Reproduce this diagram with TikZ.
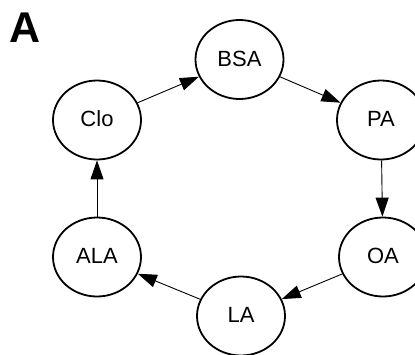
\documentclass[tikz,border=0pt]{standalone}
\usepackage{fontspec}
\setmainfont{Liberation Sans}
\usetikzlibrary{shapes.geometric,arrows.meta}
\begin{document}
\begin{tikzpicture}[x=1pt,y=-1pt,
  state/.style={ellipse,draw,line width=1.8pt,minimum width=88pt,minimum height=79pt,inner sep=0pt,font=\fontsize{22}{24}\selectfont},
  conn/.style={line width=0.9pt,-{Triangle[length=19pt,width=13pt]}}]
\useasboundingbox (0,0) rectangle (415,354);
\node[font=\bfseries\fontsize{43}{46}\selectfont,anchor=center] (lab) at (25,28) {A};
\node[state] (BSA) at (239.5,59.5) {\raisebox{2pt}{BSA}};
\node[state] (PA) at (381,120) {\raisebox{2pt}{PA}};
\node[state] (OA) at (383,257) {\raisebox{2pt}{OA}};
\node[state] (LA) at (241,316) {\raisebox{2pt}{LA}};
\node[state] (ALA) at (97,257) {\raisebox{2pt}{ALA}};
\node[state] (Clo) at (97,120) {\raisebox{2pt}{Clo}};
\draw[conn] (Clo) -- (BSA);
\draw[conn] (BSA) -- (PA);
\draw[conn] (PA) -- (OA);
\draw[conn] (OA) -- (LA);
\draw[conn] (LA) -- (ALA);
\draw[conn] (ALA) -- (Clo);
\end{tikzpicture}
\end{document}
